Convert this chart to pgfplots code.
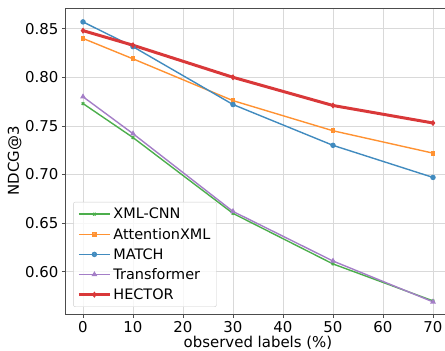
\documentclass[border=0pt]{standalone}
\usepackage{pgfplots}
\pgfplotsset{compat=1.18}
\usepackage{fontspec}
\setmainfont{DejaVu Sans}
\definecolor{tabblue0}{HTML}{1F77B4}
\definecolor{taborange0}{HTML}{FF7F0E}
\definecolor{tabgreen0}{HTML}{2CA02C}
\definecolor{tabred0}{HTML}{D62728}
\definecolor{tabpurple0}{HTML}{9467BD}
\colorlet{tabblue}{tabblue0!85!white}
\colorlet{taborange}{taborange0!85!white}
\colorlet{tabgreen}{tabgreen0!85!white}
\colorlet{tabred}{tabred0!92!white}
\colorlet{tabpurple}{tabpurple0!85!white}
\begin{document}
\begin{tikzpicture}
\useasboundingbox (-65.5bp,-37bp) rectangle (379.5bp,314bp);
\begin{axis}[
  at={(0,0)}, anchor=south west,
  scale only axis, width=385bp, height=306bp,
  xmin=-3.5, xmax=73.5, ymin=0.5565, ymax=0.8713,
  xtick={0,10,...,70},
  ytick={0.60,0.65,0.70,0.75,0.80,0.85},
  yticklabel style={/pgf/number format/.cd, fixed, fixed zerofill, precision=2},
  /pgf/number format/assume math mode=true,
  tick label style={font=\fontsize{15}{18}\selectfont},
  label style={font=\fontsize{15}{18}\selectfont},
  xlabel={observed labels (\%)}, ylabel={NDCG@3},
  xlabel style={yshift=3bp}, ylabel style={yshift=-3bp},
  grid=major, grid style={draw=black!15, line width=0.8bp},
  axis line style={draw=black!70, line width=0.8bp},
  tick align=outside, major tick length=3.5bp,
  tick style={draw=black!70, line width=0.8bp},
  xtick pos=bottom, ytick pos=left,
  every axis plot/.append style={line width=1.4bp},
  legend style={at={(0.02,0.023)}, anchor=south west, draw=black!20, rounded corners=2bp,
    fill=white, fill opacity=0.8, text opacity=1, font=\fontsize{14.5}{17}\selectfont,
    row sep=3.8bp, inner xsep=4bp, inner ysep=4bp},
  legend cell align=left,
  legend image code/.code={\draw[mark repeat=2,mark phase=2] plot coordinates {(0bp,0bp)(15.5bp,0bp)(31bp,0bp)};},
]
\addplot[color=tabgreen, mark=x, mark size=1.8bp] coordinates {(0,0.773)(10,0.738)(30,0.660)(50,0.608)(70,0.570)};
\addlegendentry{XML-CNN}
\addplot[color=taborange, mark=square*, mark size=1.7bp] coordinates {(0,0.840)(10,0.819)(30,0.776)(50,0.745)(70,0.722)};
\addlegendentry{AttentionXML}
\addplot[color=tabblue, mark=*, mark size=2bp] coordinates {(0,0.857)(10,0.8315)(30,0.772)(50,0.730)(70,0.697)};
\addlegendentry{MATCH}
\addplot[color=tabpurple, mark=triangle*, mark size=2bp] coordinates {(0,0.780)(10,0.742)(30,0.662)(50,0.611)(70,0.569)};
\addlegendentry{Transformer}
\addplot[color=tabred, mark=diamond*, mark size=2.3bp, line width=3bp, mark options={line width=1bp}] coordinates {(0,0.848)(10,0.833)(30,0.800)(50,0.771)(70,0.753)};
\addlegendentry{HECTOR}
\end{axis}
\end{tikzpicture}
\end{document}
